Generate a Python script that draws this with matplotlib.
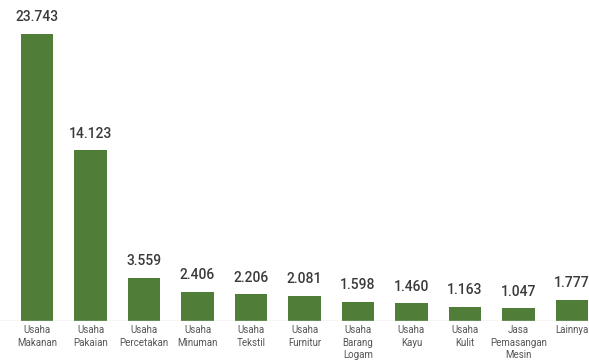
import matplotlib.pyplot as plt

kategori = ["Usaha\nMakanan", "Usaha\nPakaian", "Usaha\nPercetakan", "Usaha\nMinuman",
            "Usaha\nTekstil", "Usaha\nFurnitur", "Usaha\nBarang\nLogam", "Usaha\nKayu",
            "Usaha\nKulit", "Jasa\nPemasangan\nMesin", "Lainnya"]
nilai = [23.743, 14.123, 3.559, 2.406, 2.206, 2.081, 1.598, 1.460, 1.163, 1.047, 1.777]
label_nilai = ["23.743", "14.123", "3.559", "2.406", "2.206", "2.081", "1.598",
               "1.460", "1.163", "1.047", "1.777"]

fig = plt.figure(figsize=(5.89, 3.62), dpi=100)
ax = fig.add_axes([0, 41 / 362, 1, 321 / 362])

x = list(range(len(nilai)))
ax.bar(x, nilai, width=0.6, color="#507e39", zorder=2)

for xi, v, t in zip(x, nilai, label_nilai):
    ax.text(xi, v + 0.8, t, ha="center", va="bottom", fontsize=10,
            fontweight="medium", color="#3a3a3a", family="Roboto")

ax.set_xlim(-0.692, 10.318)
ax.set_ylim(0, 26.55)
ax.axhline(0, color="#d0d0d0", linewidth=1, zorder=3)

ax.set_xticks(x)
ax.set_xticklabels(kategori, fontsize=7, color="#555555", family="Roboto",
                   linespacing=1.3)
ax.tick_params(axis="x", length=0, pad=3)
ax.set_yticks([])
for s in ax.spines.values():
    s.set_visible(False)

fig.savefig("out.png", dpi=100)
